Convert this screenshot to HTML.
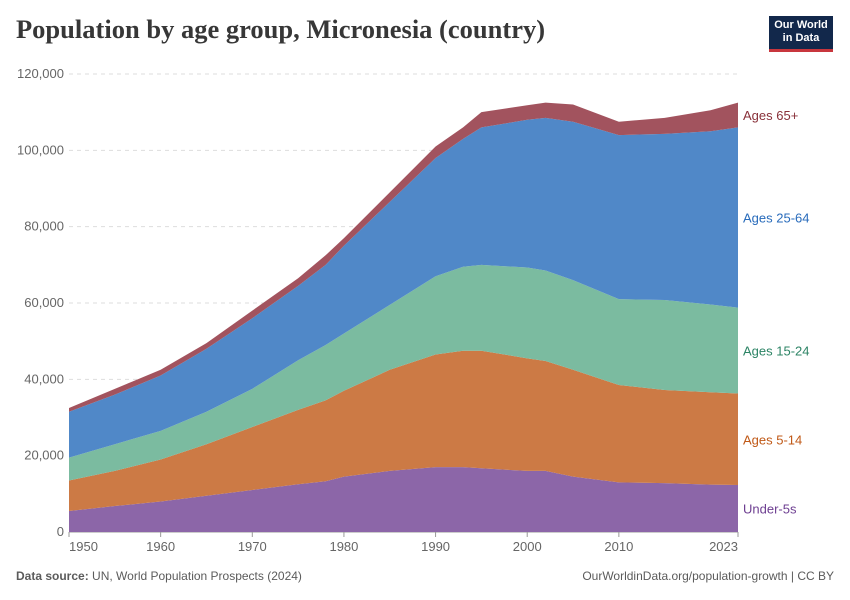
<!DOCTYPE html>
<html><head><meta charset="utf-8"><style>
body{margin:0;background:#fff;font-family:"Liberation Sans",sans-serif}
#wrap{position:relative;width:850px;height:600px}
h1{position:absolute;left:16px;top:14px;margin:0;font-family:"Liberation Serif",serif;font-size:26.5px;font-weight:bold;color:#373737}
.logo{position:absolute;left:769px;top:16px;width:64px;height:36px;background:#12284b;border-bottom:3px solid #c8363d;color:#fff;font-size:11px;line-height:13px;text-align:center;padding-top:3px;box-sizing:border-box;font-weight:bold}
.foot{position:absolute;top:569px;font-size:12px;color:#5b5b5b}
</style></head><body>
<div id="wrap">
<h1>Population by age group, Micronesia (country)</h1>
<div class="logo">Our World<br>in Data</div>
<svg id="chart" width="850" height="600" style="position:absolute;left:0;top:0"></svg>
<div class="foot" style="left:16px"><b>Data source:</b> UN, World Population Prospects (2024)</div>
<div class="foot" style="right:16px">OurWorldinData.org/population-growth | CC BY</div>
</div>
<script>
const years=[1950,1955,1960,1965,1970,1975,1978,1980,1985,1990,1993,1995,2000,2002,2005,2010,2015,2020,2023];
const under5=[5500,6800,8000,9500,11000,12500,13300,14500,16000,17000,17000,16700,16000,16000,14500,13000,12800,12400,12300];
const age5to14=[8000,9200,11000,13500,16500,19500,21200,22500,26500,29500,30500,30800,29500,28800,28000,25500,24400,24200,24000];
const age15to24=[6000,7000,7500,8500,10000,13000,14500,15000,17000,20500,22000,22500,23800,23700,23500,22500,23600,23000,22500];
const age25to64=[12000,13000,14500,16500,18500,19500,21000,23000,27000,31000,33500,36000,38700,40000,41500,43000,43500,45400,47200];
const age65plus=[1000,1500,1500,1500,2000,2000,2500,2000,2500,3000,3000,4000,3800,4000,4500,3500,4200,5500,6500];
const yTicks=[0,20000,40000,60000,80000,100000,120000];
const xTicks=[1950,1960,1970,1980,1990,2000,2010,2023];
const seriesNames=["Under-5s","Ages 5-14","Ages 15-24","Ages 25-64","Ages 65+"];
const fills=["#8c66a8","#cc7a45","#7bbba0","#5088c8","#a2535e"];
const textCols=["#6d3e91","#c05917","#2c8465","#286bbb","#883039"];
const svg=document.getElementById('chart');
const NS="http://www.w3.org/2000/svg";
const x0=69,x1=738,y0=532,y1=74;
const X=y=>x0+(y-1950)/(2023-1950)*(x1-x0);
const Y=v=>y0-v/120000*(y0-y1);
function mk(t,a){const e=document.createElementNS(NS,t);for(const k in a)e.setAttribute(k,a[k]);svg.appendChild(e);return e;}
yTicks.forEach(v=>{
 const l=mk('line',{x1:x0,x2:x1,y1:Y(v),y2:Y(v),stroke:v?'#ddd':'#999','stroke-dasharray':v?'4,4':''});
 
 
 const t=mk('text',{x:64,y:Y(v)+4,'text-anchor':'end','font-size':13,fill:'#666'});
 t.textContent=v.toLocaleString('en-US');
 
 
});
const series=[under5,age5to14,age15to24,age25to64,age65plus];
let base=years.map(()=>0);
series.forEach((s,i)=>{
 const top=base.map((b,j)=>b+s[j]);
 let d='M'+years.map((yr,j)=>X(yr)+','+Y(top[j])).join('L');
 for(let j=years.length-1;j>=0;j--)d+='L'+X(years[j])+','+Y(base[j]);
 const p=mk('path',{d:d+'Z',fill:fills[i]});
 
 
 const mid=(base[base.length-1]+top[top.length-1])/2;
 const t=mk('text',{x:743,y:Y(mid)+5,'font-size':13,fill:textCols[i]});
 t.textContent=seriesNames[i];
 
 
 base=top;
});
xTicks.forEach((v,i)=>{
 const l=mk('line',{x1:X(v),x2:X(v),y1:y0,y2:y0+5,stroke:'#999'});
 
 
 const first=i===0,last=i===xTicks.length-1;
 const t=mk('text',{x:first?X(v)-0:last?X(v):X(v),y:551,'text-anchor':first?'start':last?'end':'middle','font-size':13,fill:'#666'});
 t.textContent=v;
 
 
});
</script>
</body></html>
